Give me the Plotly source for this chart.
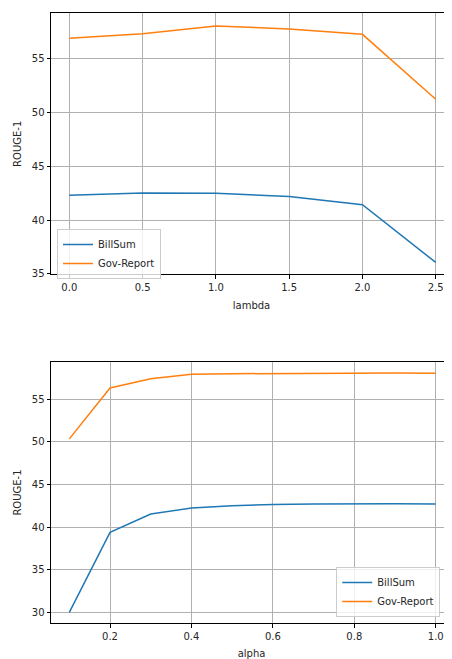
import plotly.graph_objects as go

# ---- data ----
lambda_vals = [0.0, 0.5, 1.0, 1.5, 2.0, 2.5]
lambda_billsum = [42.31, 42.50, 42.48, 42.19, 41.42, 36.07]
lambda_govreport = [56.85, 57.28, 57.99, 57.72, 57.22, 51.20]

alpha_vals = [0.1, 0.2, 0.3, 0.4, 0.5, 0.6, 0.7, 0.8, 0.9, 1.0]
alpha_billsum = [30.0, 39.38, 41.53, 42.23, 42.50, 42.66, 42.72, 42.75, 42.73, 42.70]
alpha_govreport = [50.35, 56.33, 57.42, 57.93, 58.00, 58.03, 58.06, 58.08, 58.07, 58.05]

series_names = ["BillSum", "Gov-Report"]
colors = ["#1f77b4", "#ff7f0e"]

OFF = 8  # page body margin
W, H = 452 - OFF, 659 - OFF
FONT = "DejaVu Sans"
TICKC = "#262626"
FS = 10

fig = go.Figure()

for name, col, ys in zip(series_names, colors, [lambda_billsum, lambda_govreport]):
    fig.add_trace(go.Scatter(x=lambda_vals, y=ys, mode="lines", name=name,
                             line=dict(color=col, width=1.5),
                             xaxis="x", yaxis="y", legend="legend"))
for name, col, ys in zip(series_names, colors, [alpha_billsum, alpha_govreport]):
    fig.add_trace(go.Scatter(x=alpha_vals, y=ys, mode="lines", name=name,
                             line=dict(color=col, width=1.5),
                             xaxis="x2", yaxis="y2", legend="legend2"))

def px_y(p):
    return 1 - (p - OFF) / H

L = 51 - OFF

axis_common = dict(
    showgrid=True, gridcolor="#b0b0b0", gridwidth=0.8,
    showline=True, linecolor="black", linewidth=1,
    ticks="outside", ticklen=3.5, tickwidth=0.8, tickcolor="black",
    tickfont=dict(family=FONT, size=FS, color=TICKC),
    zeroline=False, automargin=False,
)
tfont = dict(family=FONT, size=FS, color=TICKC)

fig.update_layout(
    width=W, height=H,
    margin=dict(l=L, r=0, t=0, b=0),
    plot_bgcolor="white", paper_bgcolor="white",
    font=dict(family=FONT, size=FS, color=TICKC),
    xaxis=dict(axis_common, domain=[0, 1], anchor="y", mirror=True,
               range=[-0.125, 2.611], tick0=0, dtick=0.5, tickformat=".1f",
               title=dict(text="lambda", font=tfont, standoff=10)),
    yaxis=dict(axis_common, domain=[px_y(274.3), px_y(13.3)], anchor="x", mirror=False,
               range=[34.97, 59.17], tick0=0, dtick=5,
               title=dict(text="ROUGE-1", font=tfont, standoff=8)),
    xaxis2=dict(axis_common, domain=[0, 1], anchor="y2", mirror=True,
                range=[0.055, 1.040], tick0=0, dtick=0.2, tickformat=".1f",
                title=dict(text="alpha", font=tfont, standoff=10)),
    yaxis2=dict(axis_common, domain=[px_y(623.3), px_y(361.7)], anchor="x2", mirror=False,
                range=[28.71, 59.41], tick0=0, dtick=5,
                title=dict(text="ROUGE-1", font=tfont, standoff=8)),
    legend=dict(x=(57 - 51) / (W - L), y=px_y(229), xanchor="left", yanchor="top",
                bgcolor="rgba(255,255,255,0.8)", bordercolor="#cccccc", borderwidth=1,
                font=dict(family=FONT, size=FS, color=TICKC), tracegroupgap=0, itemwidth=30),
    legend2=dict(x=(448 - 51) / (W - L + OFF), y=px_y(617), xanchor="right", yanchor="bottom",
                 bgcolor="rgba(255,255,255,0.8)", bordercolor="#cccccc", borderwidth=1,
                 font=dict(family=FONT, size=FS, color=TICKC), tracegroupgap=0, itemwidth=30),
)

fig.write_html("out.html")
